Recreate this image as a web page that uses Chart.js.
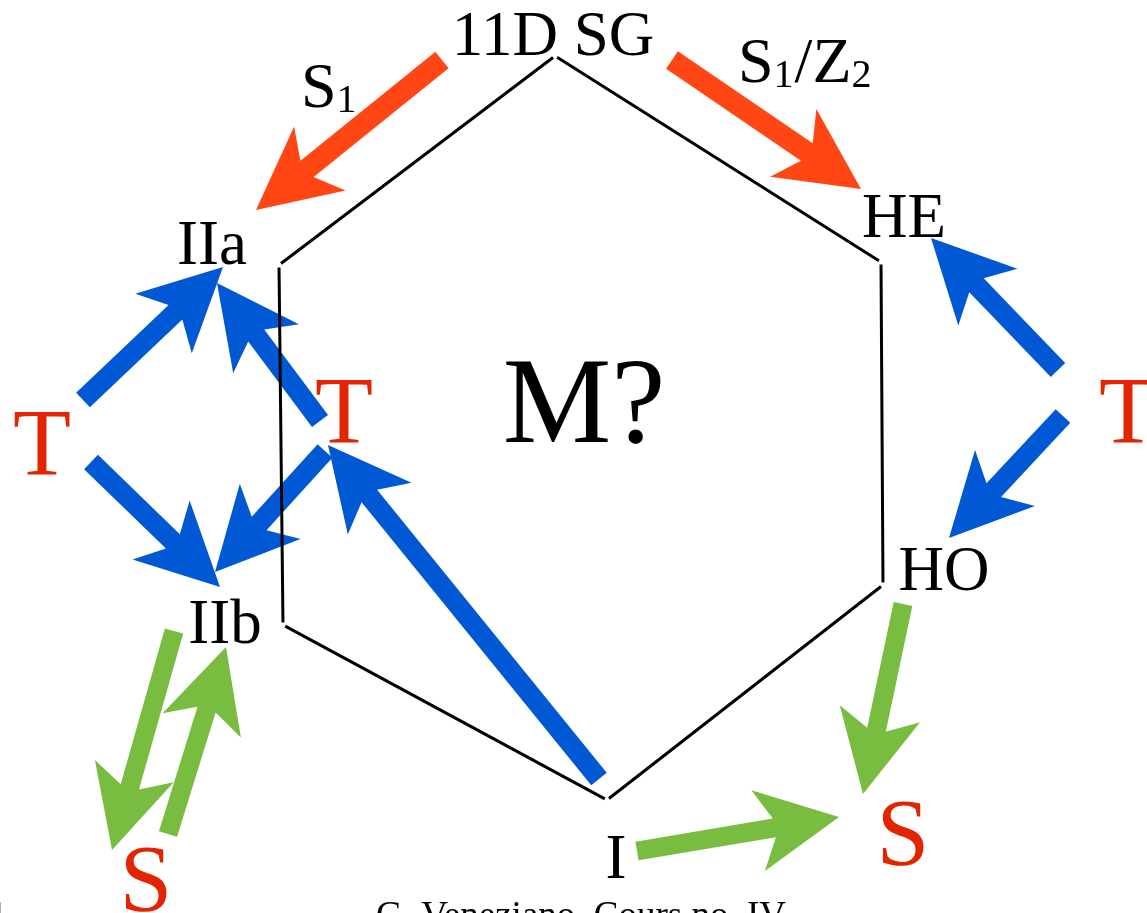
<!DOCTYPE html>
<html>
<head>
<meta charset="utf-8">
<title>M? duality web</title>
<script src="https://cdn.jsdelivr.net/npm/chart.js@4.4.1/dist/chart.umd.min.js"></script>
<style>
  html, body { margin: 0; padding: 0; background: #fff; overflow: hidden; }
  #wrap { width: 1147px; height: 913px; }
</style>
</head>
<body>
<div id="wrap"><canvas id="chart" width="1147" height="913"></canvas></div>
<script>
// ---------- DATA ----------
// hexagon corners, clockwise from 11D SG (plot units = pixels, y down)
const hexX = [555, 881, 883, 607, 283, 279];
const hexY = [56, 262, 585, 800, 625, 265];

// arrows, tail -> tip
const arrowKind  = ['red', 'red', 'blue', 'blue', 'blue', 'blue', 'blue', 'blue', 'blue', 'green', 'green', 'green', 'green'];
const arrowFromX = [442, 672, 83, 320, 91, 325, 599, 1058, 1063, 174, 168, 903, 637];
const arrowFromY = [60, 60, 400, 421, 462, 451, 779, 370, 416, 631, 834, 604, 851];
const arrowToX   = [256, 861, 223, 217, 220, 215, 328, 931, 949, 112, 226, 863, 839];
const arrowToY   = [210, 189, 267, 283, 587, 572, 445, 238, 538, 850, 647, 794, 817];

// plain labels (centre x, baseline y)
const labelText = ['11D SG', 'IIa', 'HE', 'HO', 'IIb', 'I', 'M?', 'T', 'T', 'T', 'S', 'S', 'G. Veneziano, Cours no. IV'];
const labelKind = ['node', 'node', 'node', 'node', 'node', 'node', 'big', 'T', 'T', 'T', 'T', 'T', 'foot'];
const labelX = [553, 212, 904, 944, 225, 616, 584, 42, 344, 1128, 903, 146, 581];
const labelY = [55, 264, 237, 590, 643, 878, 442, 475, 443, 443, 865, 911, 927];

// map labels, "_" marks a subscript (left x, baseline y)
const mapText = ['S_1', 'S_1/Z_2'];
const mapX = [301, 738];
const mapY = [107, 82];

// ---------- STYLE ----------
const SERIF = '"Liberation Serif", "Times New Roman", Times, serif';
const arrowStyle = {
    red:   { color: '#FF4614', shaft: 21 },
    blue:  { color: '#0058D5', shaft: 20 },
    green: { color: '#78BC40', shaft: 19 }
};
const HEAD_L = 82, HEAD_W = 41, NOTCH = 0.8;
const labelStyle = {
    node: { size: 63,  color: '#000' },
    big:  { size: 122, color: '#000' },
    T:    { size: 95,  color: '#E32400' },
    foot: { size: 37,  color: '#000' }
};

// hexagon edges with a small gap at every corner
function hexSegments() {
    const pts = [];
    for (let i = 0; i < hexX.length; i++) {
        const j = (i + 1) % hexX.length;
        const dx = hexX[j] - hexX[i], dy = hexY[j] - hexY[i];
        const g = 2.5 / Math.hypot(dx, dy);
        pts.push({ x: hexX[i] + dx * g, y: hexY[i] + dy * g });
        pts.push({ x: hexX[j] - dx * g, y: hexY[j] - dy * g });
        pts.push({ x: null, y: null });
    }
    return pts;
}

function drawArrow(ctx, x0, y0, x1, y1, shaftW) {
    const len = Math.hypot(x1 - x0, y1 - y0);
    const ux = (x1 - x0) / len, uy = (y1 - y0) / len;
    const px = -uy, py = ux, hs = shaftW / 2;
    const nx = x1 - ux * HEAD_L * NOTCH, ny = y1 - uy * HEAD_L * NOTCH;
    const bx = x1 - ux * HEAD_L, by = y1 - uy * HEAD_L;
    ctx.beginPath();
    ctx.moveTo(x0 + px * hs, y0 + py * hs);
    ctx.lineTo(nx + px * hs, ny + py * hs);
    ctx.lineTo(bx + px * HEAD_W, by + py * HEAD_W);
    ctx.lineTo(x1, y1);
    ctx.lineTo(bx - px * HEAD_W, by - py * HEAD_W);
    ctx.lineTo(nx - px * hs, ny - py * hs);
    ctx.lineTo(x0 - px * hs, y0 - py * hs);
    ctx.closePath();
    ctx.fill();
}

// arrows go under the hexagon lines
const arrowPlugin = {
    id: 'arrows',
    beforeDatasetsDraw(chart) {
        const { ctx, scales: { x, y } } = chart;
        ctx.save();
        arrowKind.forEach((k, i) => {
            ctx.fillStyle = arrowStyle[k].color;
            drawArrow(ctx,
                x.getPixelForValue(arrowFromX[i]), y.getPixelForValue(arrowFromY[i]),
                x.getPixelForValue(arrowToX[i]), y.getPixelForValue(arrowToY[i]),
                arrowStyle[k].shaft);
        });
        ctx.restore();
    }
};

const labelPlugin = {
    id: 'labels',
    afterDatasetsDraw(chart) {
        const { ctx, scales: { x, y } } = chart;
        ctx.save();
        ctx.textBaseline = 'alphabetic';
        ctx.textAlign = 'center';
        labelText.forEach((t, i) => {
            const s = labelStyle[labelKind[i]];
            ctx.font = s.size + 'px ' + SERIF;
            ctx.fillStyle = s.color;
            ctx.fillText(t, x.getPixelForValue(labelX[i]), y.getPixelForValue(labelY[i]));
        });
        // page number, mostly off the left edge
        ctx.textAlign = 'left';
        ctx.font = labelStyle.foot.size + 'px ' + SERIF;
        ctx.fillText('1', x.getPixelForValue(-11), y.getPixelForValue(927));

        // S1 and S1/Z2 with subscripts
        ctx.fillStyle = '#000';
        mapText.forEach((t, i) => {
            let px = x.getPixelForValue(mapX[i]);
            const base = y.getPixelForValue(mapY[i]);
            const parts = t.split(/(_\d)/).filter(Boolean);
            parts.forEach(p => {
                const sub = p[0] === '_';
                const txt = sub ? p.slice(1) : p;
                ctx.font = (sub ? 40 : 64) + 'px ' + SERIF;
                ctx.fillText(txt, px, base + (sub ? 5 : 0));
                px += ctx.measureText(txt).width + (sub ? 1 : 0);
            });
        });
        ctx.restore();
    }
};

new Chart(document.getElementById('chart'), {
    type: 'scatter',
    data: {
        datasets: [{
            data: hexSegments(),
            showLine: true,
            spanGaps: false,
            borderColor: '#000',
            borderWidth: 3,
            borderCapStyle: 'butt',
            pointRadius: 0,
            pointHoverRadius: 0,
            tension: 0
        }]
    },
    options: {
        responsive: false,
        animation: false,
        devicePixelRatio: 1,
        events: [],
        layout: { padding: 0 },
        scales: {
            x: { type: 'linear', min: 0, max: 1147, display: false },
            y: { type: 'linear', min: 0, max: 913, reverse: true, display: false }
        },
        plugins: { legend: { display: false }, tooltip: { enabled: false } }
    },
    plugins: [arrowPlugin, labelPlugin]
});
</script>
</body>
</html>
